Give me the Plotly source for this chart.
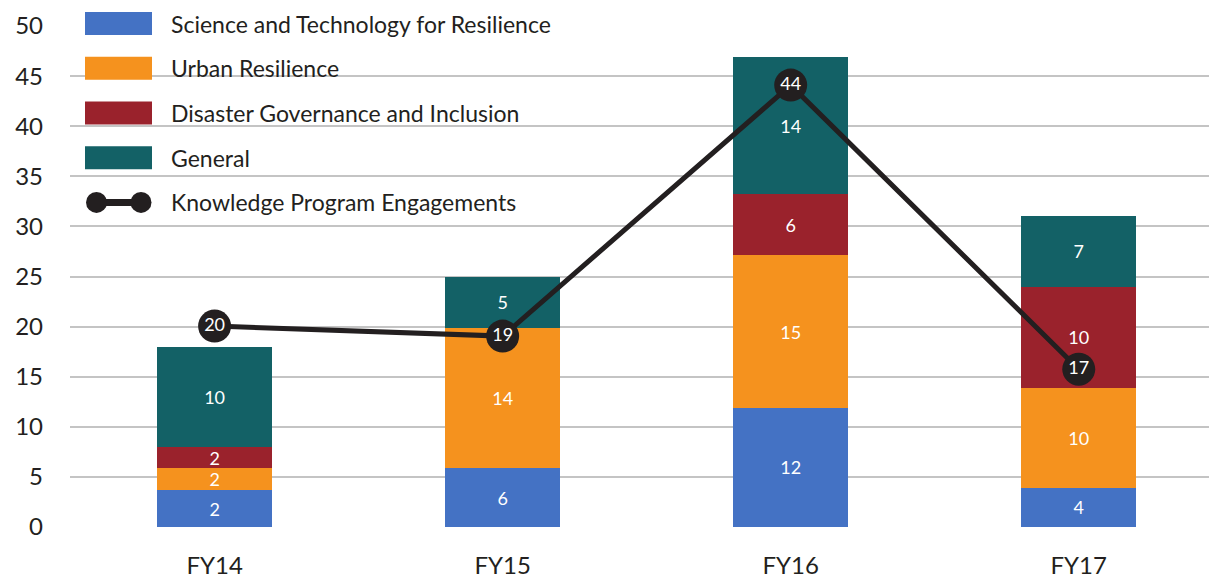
import plotly.graph_objects as go

categories = ["FY14", "FY15", "FY16", "FY17"]

# segment heights as drawn
science = [3.66, 5.85, 11.9, 3.9]
urban = [2.2, 14.05, 15.2, 10.0]
governance = [2.15, 0.0, 6.1, 10.1]
general = [10.0, 5.1, 13.7, 7.0]

# value labels printed on the segments
science_labels = ["2", "6", "12", "4"]
urban_labels = ["2", "14", "15", "10"]
governance_labels = ["2", "", "6", "10"]
general_labels = ["10", "5", "14", "7"]

engagements = [20.05, 19.05, 44.1, 15.75]
engagement_labels = ["20", "19", "44", "17"]

series_names = [
    "Science and Technology for Resilience",
    "Urban Resilience",
    "Disaster Governance and Inclusion",
    "General",
]
line_name = "Knowledge Program Engagements"

colors = ["#4472C4", "#F5921E", "#9A222C", "#136166"]
line_color = "#231F20"
text_color = "#231F20"
font_family = "Lato, 'Open Sans', sans-serif"

fig = go.Figure()
for name, vals, labels, col in zip(
    series_names,
    [science, urban, governance, general],
    [science_labels, urban_labels, governance_labels, general_labels],
    colors,
):
    fig.add_trace(go.Bar(
        x=categories, y=vals, name=name, text=labels,
        marker=dict(color=col, line=dict(width=0)),
        width=0.4,
        textposition="inside", insidetextanchor="middle", textangle=0,
        textfont=dict(color="white", size=18, family=font_family),
        showlegend=False, hoverinfo="skip",
    ))

fig.add_trace(go.Scatter(
    x=categories, y=engagements, name=line_name,
    mode="lines+markers+text", text=engagement_labels,
    textposition="middle center",
    textfont=dict(color="white", size=18, family=font_family),
    line=dict(color=line_color, width=5),
    marker=dict(color=line_color, size=33),
    showlegend=False, hoverinfo="skip",
))

# page has an 8px body margin; figure geometry compensates for it
OFF = 8
W, H = 1217 - OFF, 579 - OFF
L, R, T, B = 70 - OFF, 0, 26 - OFF, 49
pw, ph = W - L - R, H - T - B


def px(x):
    # x in screen pixels -> paper
    return (x - OFF - L) / pw


def py(y):
    # y in screen pixels -> paper
    return (H - B - (y - OFF)) / ph


shapes = []
annotations = []
row_y = [23.5, 68.5, 113.5, 158.5, 203.5]
for i, col in enumerate(colors):
    yc = row_y[i]
    shapes.append(dict(type="rect", xref="paper", yref="paper",
                       x0=px(85), x1=px(152), y0=py(yc + 11.5), y1=py(yc - 11.5),
                       fillcolor=col, line=dict(width=0), layer="above"))
for i, name in enumerate(series_names + [line_name]):
    annotations.append(dict(xref="paper", yref="paper", x=px(169), y=py(row_y[i]),
                            text=name, showarrow=False, xanchor="left", yanchor="middle",
                            font=dict(size=23, color=text_color, family=font_family)))
yc = row_y[4]
shapes.append(dict(type="line", xref="paper", yref="paper",
                   x0=px(96), x1=px(141), y0=py(yc), y1=py(yc),
                   line=dict(color=line_color, width=7), layer="above"))
for cx in (96.5, 141):
    shapes.append(dict(type="circle", xref="paper", yref="paper",
                       x0=px(cx - 10.5), x1=px(cx + 10.5), y0=py(yc + 10.5), y1=py(yc - 10.5),
                       fillcolor=line_color, line=dict(width=0), layer="above"))

fig.update_layout(
    barmode="stack",
    width=W, height=H,
    margin=dict(l=L, r=R, t=T, b=B, pad=0),
    paper_bgcolor="white", plot_bgcolor="white",
    font=dict(family=font_family, color=text_color),
    showlegend=False,
    shapes=shapes, annotations=annotations,
    uniformtext=dict(minsize=18, mode="show"),
    xaxis=dict(
        range=[-0.502, 3.48], showgrid=False, zeroline=False, showline=False,
        ticks="", tickfont=dict(size=24, color=text_color), ticklabelstandoff=22,
        fixedrange=True,
    ),
    yaxis=dict(
        range=[0, 50], dtick=5, showgrid=True, gridcolor="#C4C4C4", gridwidth=2,
        zeroline=False, showline=False, ticks="",
        tickfont=dict(size=24, color=text_color), ticklabelstandoff=26,
        fixedrange=True,
    ),
)

fig.write_html("out.html", config={"displayModeBar": False})
